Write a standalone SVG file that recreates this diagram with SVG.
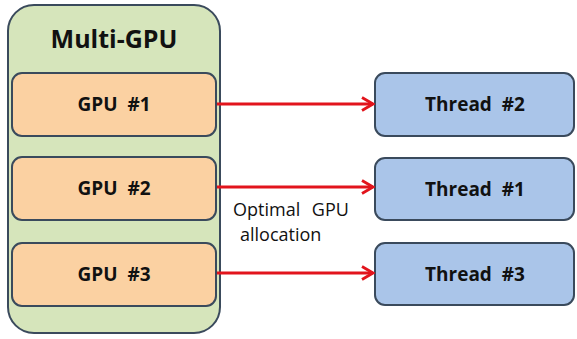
<svg xmlns="http://www.w3.org/2000/svg" width="577" height="339" viewBox="0 0 577 339">
<style>
.box{stroke:#3a4a5c;stroke-width:2}
.gpu{fill:#fbd1a2}
.thr{fill:#aac5e9}
.lbl{font-family:"Open Sans","Noto Sans","Liberation Sans",sans-serif;font-weight:bold;font-size:19px;fill:#111;text-anchor:middle;word-spacing:5px}
.cap{font-family:"Open Sans","Noto Sans","Liberation Sans",sans-serif;font-size:18px;fill:#111;word-spacing:7px}
.arr{stroke:#e2141c;stroke-width:2.8;fill:none;marker-end:url(#ah)}
</style>
<defs>
<marker id="ah" markerWidth="14" markerHeight="16" refX="12" refY="8" orient="auto" markerUnits="userSpaceOnUse">
<path d="M1,1.5 L12,8 L1,14.5" fill="none" stroke="#e2141c" stroke-width="2.8"/>
</marker>
</defs>
<rect width="577" height="339" fill="#fff"/>
<g id="multi-gpu">
<rect class="box" x="8" y="5" width="212" height="328" rx="26" fill="#d6e5bb"/>
<text x="114" y="48" font-family="Open Sans,Noto Sans,Liberation Sans,sans-serif" font-weight="bold" font-size="25" text-anchor="middle" fill="#111">Multi-GPU</text>
</g>
<g id="gpu1"><rect class="box gpu" x="12" y="73" width="204" height="63" rx="10"/><text class="lbl" x="114" y="111">GPU #1</text></g>
<g id="gpu2"><rect class="box gpu" x="12" y="157" width="204" height="63" rx="10"/><text class="lbl" x="114" y="195">GPU #2</text></g>
<g id="gpu3"><rect class="box gpu" x="12" y="243" width="204" height="63" rx="10"/><text class="lbl" x="114" y="281">GPU #3</text></g>
<g id="thread2"><rect class="box thr" x="375" y="73" width="199" height="63" rx="10"/><text class="lbl" x="475" y="111">Thread #2</text></g>
<g id="thread1"><rect class="box thr" x="375" y="158" width="199" height="62" rx="10"/><text class="lbl" x="475" y="196">Thread #1</text></g>
<g id="thread3"><rect class="box thr" x="375" y="243" width="199" height="62" rx="10"/><text class="lbl" x="475" y="281">Thread #3</text></g>
<g id="connectors">
<line class="arr" x1="217" y1="104" x2="373" y2="104"/>
<line class="arr" x1="217" y1="187" x2="373" y2="187"/>
<line class="arr" x1="217" y1="273" x2="373" y2="273"/>
<text class="cap" x="233" y="216">Optimal GPU</text>
<text class="cap" x="240" y="241">allocation</text>
</g>
</svg>
